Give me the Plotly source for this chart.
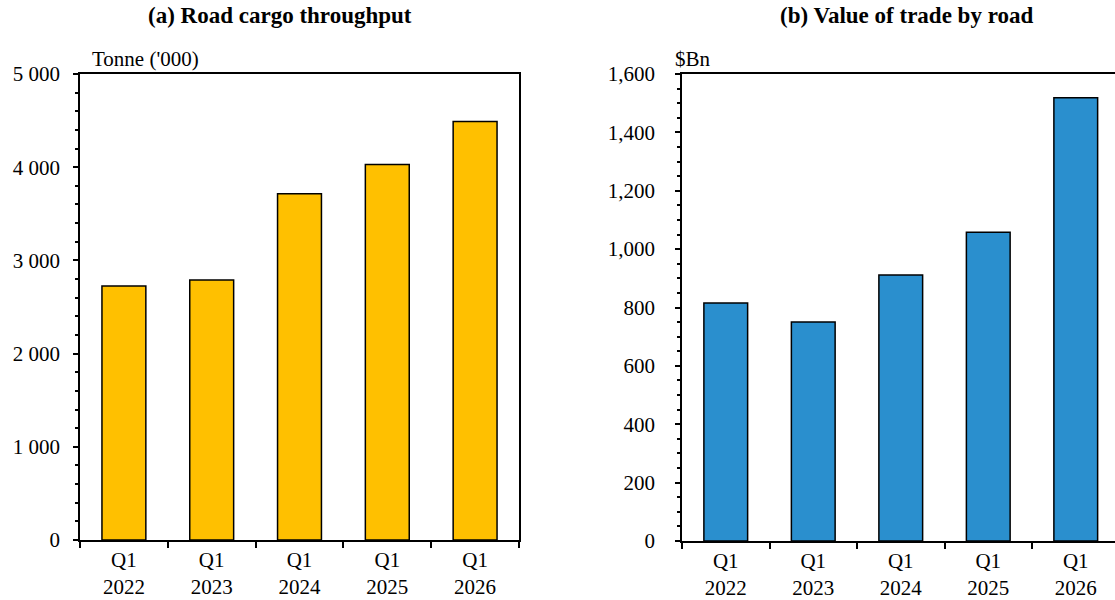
import plotly.graph_objects as go

# Quarterly road trade figures
periods = ["Q1<br>2022", "Q1<br>2023", "Q1<br>2024", "Q1<br>2025", "Q1<br>2026"]
cargo_kt = [2725, 2790, 3715, 4030, 4490]          # tonne ('000)
trade_value_bn = [815, 750, 911, 1058, 1519]       # $Bn

cargo_ticks = [0, 1000, 2000, 3000, 4000, 5000]
cargo_ticktext = ["0", "1 000", "2 000", "3 000", "4 000", "5 000"]
value_ticks = [0, 200, 400, 600, 800, 1000, 1200, 1400, 1600]
value_ticktext = ["0", "200", "400", "600", "800", "1,000", "1,200", "1,400", "1,600"]

W, H = 1115, 600
FONT = "Liberation Serif"
YELLOW = "#FFC000"
BLUE = "#2A8FCE"


def px_x(p):
    return p / W


def px_y(p):
    return 1 - p / H


fig = go.Figure()

fig.add_trace(go.Bar(
    x=periods, y=cargo_kt, xaxis="x", yaxis="y",
    marker=dict(color=YELLOW, line=dict(color="black", width=1.5)),
    width=0.5, showlegend=False, hoverinfo="x+y",
))
fig.add_trace(go.Bar(
    x=periods, y=trade_value_bn, xaxis="x2", yaxis="y2",
    marker=dict(color=BLUE, line=dict(color="black", width=1.5)),
    width=0.5, showlegend=False, hoverinfo="x+y",
))

axis_font = dict(family=FONT, size=21, color="black")

common_x = dict(
    type="category", tickson="boundaries", ticks="outside", ticklen=6,
    tickwidth=1.5, tickcolor="black", showline=True, linecolor="black",
    linewidth=1.5, showgrid=False, zeroline=False, tickfont=axis_font,
    fixedrange=True, automargin=False,
)
common_y = dict(
    ticks="outside", ticklen=5, tickwidth=1.5, tickcolor="black",
    showline=True, linecolor="black", linewidth=1.5, showgrid=False,
    zeroline=False, tickfont=axis_font, tickmode="array",
    fixedrange=True, automargin=False,
)

# Right-hand panel runs slightly past the page edge
right_end = 4.5 - 4.5 / 87.5

fig.update_layout(
    template="none",
    width=W, height=H,
    margin=dict(l=0, r=0, t=0, b=0, pad=0, autoexpand=False),
    paper_bgcolor="white", plot_bgcolor="white",
    font=dict(family=FONT, color="black"),
    bargap=0.5,
    xaxis=dict(common_x, domain=[px_x(80), px_x(519)], anchor="y",
               range=[-0.5, 4.5], mirror=True),
    yaxis=dict(common_y, domain=[px_y(540), px_y(74)], anchor="x",
               range=[0, 5000], tickvals=cargo_ticks, ticktext=cargo_ticktext,
               mirror=True, ticklabelstandoff=9,
               minor=dict(tickmode="linear", tick0=0, dtick=200, ticks="outside",
                          ticklen=3, tickwidth=1.5, tickcolor="black")),
    xaxis2=dict(common_x, domain=[px_x(682), 1.0], anchor="y2",
                range=[-0.5, right_end], mirror=True),
    yaxis2=dict(common_y, domain=[px_y(541), px_y(74)], anchor="x2",
                range=[0, 1600], tickvals=value_ticks, ticktext=value_ticktext,
                ticklabelstandoff=16,
                minor=dict(tickmode="linear", tick0=0, dtick=50, ticks="outside",
                           ticklen=3, tickwidth=1.5, tickcolor="black")),
)

annotations = [
    dict(text="<b>(a) Road cargo throughput</b>", x=px_x(280), y=px_y(16),
         font=dict(family=FONT, size=23, color="black")),
    dict(text="<b>(b) Value of trade by road</b>", x=px_x(906), y=px_y(16),
         font=dict(family=FONT, size=23, color="black")),
    dict(text="Tonne ('000)", x=px_x(90), y=px_y(59), xanchor="left",
         font=dict(family=FONT, size=21, color="black")),
    dict(text="$Bn", x=px_x(673), y=px_y(59), xanchor="left",
         font=dict(family=FONT, size=21, color="black")),
]
for a in annotations:
    a.setdefault("xanchor", "center")
    fig.add_annotation(xref="paper", yref="paper", yanchor="middle",
                       showarrow=False, **a)

fig.write_html("out.html")
